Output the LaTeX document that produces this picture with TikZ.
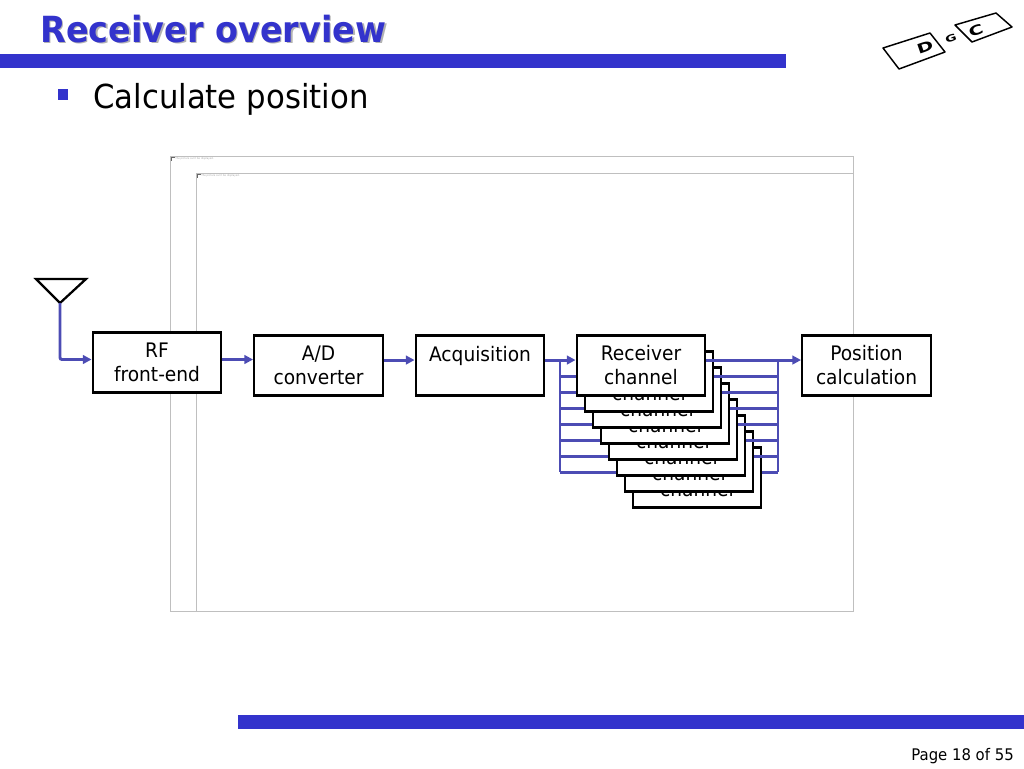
\documentclass[tikz,border=0pt]{standalone}
\usepackage{fontspec}
\setmainfont[FakeStretch=0.93]{DejaVu Sans}
\usetikzlibrary{arrows.meta, calc}
\definecolor{dgcblue}{RGB}{51,51,204}
\definecolor{wireblue}{RGB}{76,76,180}

\begin{document}
\begin{tikzpicture}[
    x=0.75pt, y=-0.75pt,
    >={Triangle[length=6.5pt,width=6.5pt]},
    % Block styles
    blockbox/.style={rectangle, draw=black, fill=white, line width=1.7pt, minimum width=96.5pt, minimum height=45pt, inner sep=0pt, align=center, font=\fontsize{15}{18}\selectfont},
    % Connector styles
    wire/.style={wireblue, line width=2.2pt},
    flow/.style={wire, ->},
    % Frame of the missing pictures
    frameline/.style={draw=black!25, line width=0.6pt},
    tinylabel/.style={anchor=west, inner sep=0pt, text=black!35, font=\fontsize{2}{3}\selectfont},
    % Slide bars
    slidebar/.style={fill=dgcblue, draw=none},
    logoline/.style={draw=black, line width=1.1pt, line join=round},
    logoletter/.style={inner sep=0pt, rotate=19, xscale=1.6, font=\fontsize{10}{12}\selectfont\bfseries}
]
    \useasboundingbox (0,0) rectangle (1024,768);

    % === SLIDE FURNITURE ===
    \fill[slidebar] (0,54) rectangle (786,68);
    \fill[slidebar] (238,715) rectangle (1024,729);
    \node[anchor=base west, inner sep=0pt, text=black!30, font=\fontsize{27}{32}\selectfont\bfseries] (shadow) at (41.5,43.5) {Receiver overview};
    \node[anchor=base west, inner sep=0pt, text=dgcblue, font=\fontsize{27}{32}\selectfont\bfseries] (title) at (40,42) {Receiver overview};
    \fill[slidebar] (58,89) rectangle (68,100);
    \node[anchor=base west, inner sep=0pt, font=\fontsize{24.8}{30}\selectfont] (bullet) at (93,108) {Calculate position};
    \node[anchor=base east, inner sep=0pt, font=\fontsize{12}{14}\selectfont] (page) at (1014,760) {Page 18 of 55};

    % === LOGO ===
    \draw[logoline] (883,48) -- (930,33) -- (945,52) -- (899,69) -- cycle;
    \draw[logoline] (955,25) -- (996,13) -- (1012,27) -- (972,42) -- cycle;
    \node[logoletter] (logod) at (925,47) {D};
    \node[logoletter, font=\fontsize{7}{9}\selectfont\bfseries] (logog) at (951,38) {G};
    \node[logoletter] (logoc) at (976,31) {C};

    % === MISSING PICTURE FRAMES ===
    \draw[frameline] (170,156) rectangle (853,611);
    \draw[frameline] (196,173) rectangle (853,611);
    \fill[black!60] (171,157) rectangle (175,158);
    \fill[black!60] (171,157) rectangle (172,161);
    \fill[black!60] (197,174) rectangle (201,175);
    \fill[black!60] (197,174) rectangle (198,178);
    \node[tinylabel] (pic1) at (175,158.5) {The picture can't be displayed.};
    \node[tinylabel] (pic2) at (201,175.5) {The picture can't be displayed.};

    % === ANTENNA ===
    \draw[black, line width=1.7pt, line join=miter] (36,279) -- (86,279) -- (60,303) -- cycle;
    \coordinate (ant) at (60,303);

    % === BLOCKS ===
    \node[blockbox] (rf) at (157,362.5) {RF\\front-end};
    \node[blockbox] (adc) at (318.5,365.5) {A/D\\converter};
    \node[blockbox] (acq) at (480,365.5) {Acquisition\\\phantom{x}};
    \node[blockbox] (pos) at (866.5,365.5) {Position\\calculation};

    % Collector rails either side of the channels
    \coordinate (railtl) at (560,360);
    \coordinate (railbl) at (560,472);
    \coordinate (railtr) at (778,360);
    \coordinate (railbr) at (778,472);
    \draw[wire] (railtl) -- (railbl);
    \draw[wire] (railtr) -- (railbr);

    % Channels, back to front, each with its feed lines
    \foreach \i in {7,6,...,1} {
        \node[blockbox] (ch\i) at ({641+8*\i},{365.5+16*\i}) {Receiver\\channel};
        \coordinate (pw\i) at ([yshift=4.1pt]ch\i.west);
        \coordinate (pe\i) at ([yshift=4.1pt]ch\i.east);
        \draw[wire] (pw\i) -- (pw\i -| railtl);
        \draw[wire] (pe\i) -- (pe\i -| railtr);
    }
    \node[blockbox] (ch0) at (641,365.5) {Receiver\\channel};

    % === CONNECTORS ===
    \draw[flow, rounded corners=1.5pt] (ant) |- ([yshift=2.25pt]rf.west);
    \draw[flow] ([yshift=2.25pt]rf.east) -- ([yshift=2.25pt]rf.east -| adc.west);
    \draw[flow] ([yshift=4.1pt]adc.east) -- ([yshift=4.1pt]acq.west);
    \draw[flow] ([yshift=4.1pt]acq.east) -- ([yshift=4.1pt]ch0.west);
    \draw[flow] ([yshift=4.1pt]ch0.east) -- ([yshift=4.1pt]pos.west);

\end{tikzpicture}
\end{document}
